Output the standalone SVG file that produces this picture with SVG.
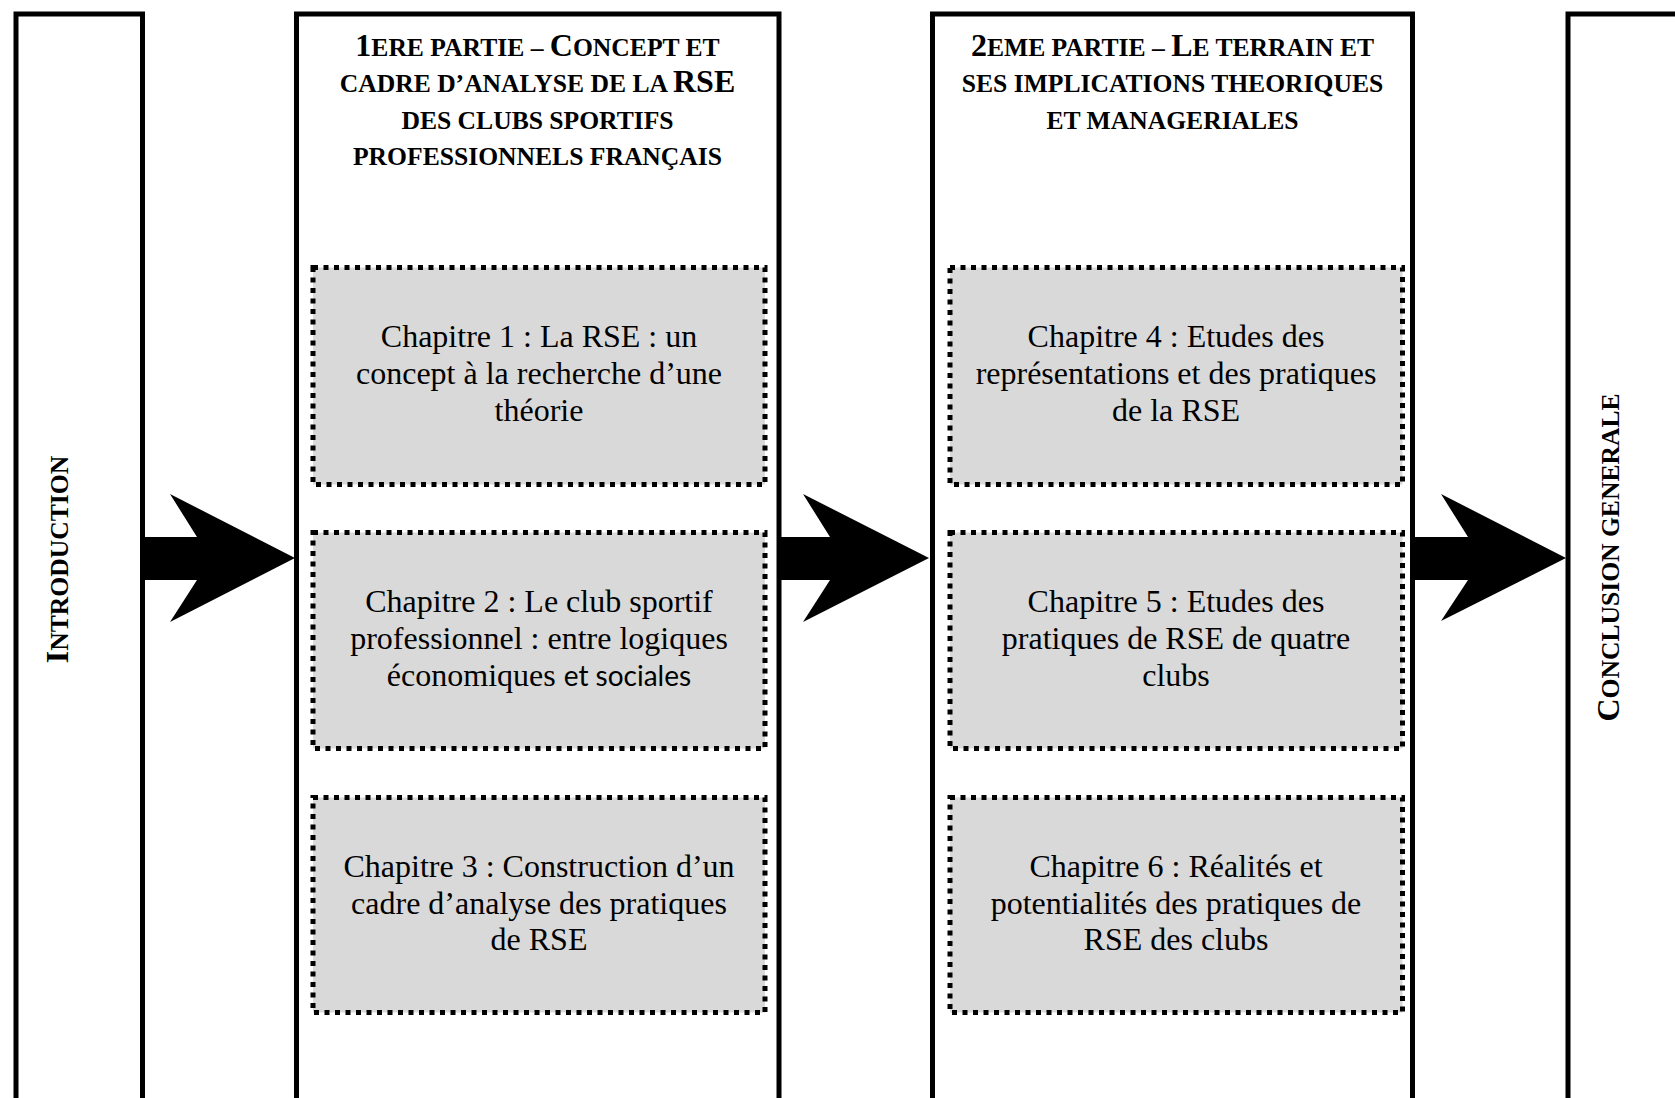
<svg xmlns="http://www.w3.org/2000/svg" width="1675" height="1098" viewBox="0 0 1675 1098">
<style>
.col{fill:#fff;stroke:#000;stroke-width:5}
.chap{fill:#d9d9d9;stroke:#000;stroke-width:5;stroke-dasharray:5 5.5}
.hd{font-family:"Liberation Serif","Times New Roman",serif;font-weight:bold;fill:#000;text-anchor:middle}
.L{font-size:32px}
.S{font-size:25.6px}
.ct{font-family:"Liberation Serif","Times New Roman",serif;font-size:32px;fill:#000;text-anchor:middle}
.sans{font-family:Lato,"Liberation Sans",sans-serif;font-size:28px}
.arr{fill:#000;stroke:none}
</style>
<rect width="1675" height="1098" fill="#fff"/>
<g id="introduction">
<rect class="col" x="16" y="14" width="126.5" height="1120"/>
<text class="hd" transform="translate(68,559.5) rotate(-90)"><tspan class="L">I</tspan><tspan class="S">NTRODUCTION</tspan></text>
</g>
<g id="partie1">
<rect class="col" x="296.5" y="14" width="482.5" height="1120"/>
<text class="hd" x="537.5" y="56"><tspan class="L">1</tspan><tspan class="S">ERE PARTIE – </tspan><tspan class="L">C</tspan><tspan class="S">ONCEPT ET</tspan></text>
<text class="hd" x="537.5" y="92"><tspan class="S">CADRE D’ANALYSE DE LA </tspan><tspan class="L">RSE</tspan></text>
<text class="hd S" x="537.5" y="128.5">DES CLUBS SPORTIFS</text>
<text class="hd S" x="537.5" y="165">PROFESSIONNELS FRANÇAIS</text>
</g>
<g id="chapitre1">
<rect class="chap" x="313" y="267.5" width="452" height="217"/>
<text class="ct" x="539" y="347">Chapitre 1 : La RSE : un</text>
<text class="ct" x="539" y="384">concept à la recherche d’une</text>
<text class="ct" x="539" y="421">théorie</text>
</g>
<g id="chapitre2">
<rect class="chap" x="313" y="532.5" width="452" height="216"/>
<text class="ct" x="539" y="612">Chapitre 2 : Le club sportif</text>
<text class="ct" x="539" y="649">professionnel : entre logiques</text>
<text class="ct" x="539" y="686">économiques <tspan class="sans">et sociales</tspan></text>
</g>
<g id="chapitre3">
<rect class="chap" x="313" y="797.5" width="452" height="215"/>
<text class="ct" x="539" y="876.5">Chapitre 3 : Construction d’un</text>
<text class="ct" x="539" y="913.5">cadre d’analyse des pratiques</text>
<text class="ct" x="539" y="950">de RSE</text>
</g>
<g id="partie2">
<rect class="col" x="932.5" y="14" width="480" height="1120"/>
<text class="hd" x="1172.5" y="56"><tspan class="L">2</tspan><tspan class="S">EME PARTIE – </tspan><tspan class="L">L</tspan><tspan class="S">E TERRAIN ET</tspan></text>
<text class="hd S" x="1172.5" y="92">SES IMPLICATIONS THEORIQUES</text>
<text class="hd S" x="1172.5" y="128.5">ET MANAGERIALES</text>
</g>
<g id="chapitre4">
<rect class="chap" x="950" y="267.5" width="452.5" height="217"/>
<text class="ct" x="1176" y="347">Chapitre 4 : Etudes des</text>
<text class="ct" x="1176" y="384">représentations et des pratiques</text>
<text class="ct" x="1176" y="421">de la RSE</text>
</g>
<g id="chapitre5">
<rect class="chap" x="950" y="532.5" width="452.5" height="216"/>
<text class="ct" x="1176" y="612">Chapitre 5 : Etudes des</text>
<text class="ct" x="1176" y="649">pratiques de RSE de quatre</text>
<text class="ct" x="1176" y="686">clubs</text>
</g>
<g id="chapitre6">
<rect class="chap" x="950" y="797.5" width="452.5" height="215"/>
<text class="ct" x="1176" y="876.5">Chapitre 6 : Réalités et</text>
<text class="ct" x="1176" y="913.5">potentialités des pratiques de</text>
<text class="ct" x="1176" y="950">RSE des clubs</text>
</g>
<g id="conclusion">
<rect class="col" x="1568" y="14" width="200" height="1120"/>
<text class="hd" transform="translate(1619,557.5) rotate(-90)"><tspan class="L">C</tspan><tspan class="S">ONCLUSION GENERALE</tspan></text>
</g>
<g id="connectors">
<polygon class="arr" points="145,537 197,537 170,494 295,558 170,622 197,580 145,580"/>
<polygon class="arr" points="781,537 830,537 803,494 929,558 803,622 830,580 781,580"/>
<polygon class="arr" points="1415,537 1468,537 1441,494 1566,558 1441,621 1468,580 1415,580"/>
</g>
</svg>
